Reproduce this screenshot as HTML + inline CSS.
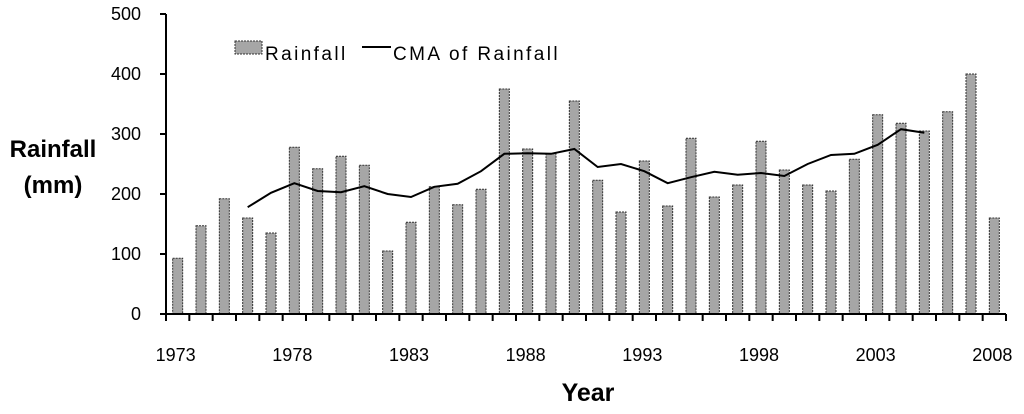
<!DOCTYPE html>
<html><head><meta charset="utf-8"><style>
body{margin:0;background:#fff;width:1024px;height:409px;overflow:hidden;font-family:"Liberation Sans",sans-serif}
</style></head><body>
<svg id="chart" width="1024" height="409" xmlns="http://www.w3.org/2000/svg" font-family="Liberation Sans, sans-serif">
<text x="53" y="157" font-size="24" font-weight="bold" text-anchor="middle">Rainfall</text>
<text x="53" y="193" font-size="24" font-weight="bold" text-anchor="middle">(mm)</text>
<text x="588" y="401" font-size="25" font-weight="bold" text-anchor="middle">Year</text>
<g>
<rect x="235" y="41" width="27" height="13" fill="#a6a6a6" stroke="#333" stroke-dasharray="2,1"/>
<text x="265" y="60" font-size="19" letter-spacing="2.4">Rainfall</text>
<line x1="362" y1="47" x2="391" y2="47" stroke="#000" stroke-width="2"/>
<text x="393" y="60" font-size="19" letter-spacing="2.4">CMA of Rainfall</text>
</g>
<g id="bars"></g><g id="axes"></g>
</svg>
<script>
const years=[];for(let y=1973;y<=2008;y++)years.push(y);
const rainfall=[93,147,192,160,135,278,242,263,248,105,153,212,182,208,375,275,267,355,223,170,255,180,293,195,215,288,240,215,205,258,332,318,305,337,400,160];
const cmaYears=[];for(let y=1976;y<=2005;y++)cmaYears.push(y);
const cma=[178,202,218,205,203,213,200,195,212,217,238,267,268,267,275,245,250,238,218,228,237,232,235,230,250,265,267,282,308,302];
const yTicks=[0,100,200,300,400,500];
const xLabels=[1973,1978,1983,1988,1993,1998,2003,2008];
const NS="http://www.w3.org/2000/svg";
const x0=166,x1=1006,y0=314,yTop=14,step=(x1-x0)/years.length;
const xs=y=>x0+(y-1973+0.5)*step;
const ys=v=>y0-(v/500)*(y0-yTop);
function mk(t,a,p){const e=document.createElementNS(NS,t);for(const k in a)e.setAttribute(k,a[k]);p.appendChild(e);return e;}
const bars=document.getElementById('bars'),axes=document.getElementById('axes');
years.forEach((yr,i)=>{const r=mk('rect',{x:xs(yr)-5,y:ys(rainfall[i]),width:10,height:y0-ys(rainfall[i]),fill:'#a6a6a6',stroke:'#333','stroke-width':1,'stroke-dasharray':'2,1'},bars);

});
const pl=mk('polyline',{points:cmaYears.map((yr,i)=>xs(yr)+','+ys(cma[i])).join(' '),fill:'none',stroke:'#000','stroke-width':2},bars);


const ya=mk('line',{x1:x0,y1:yTop,x2:x0,y2:y0,stroke:'#000','stroke-width':2},axes);


const xa=mk('line',{x1:x0,y1:y0,x2:x1,y2:y0,stroke:'#000','stroke-width':2},axes);


yTicks.forEach(v=>{mk('line',{x1:x0-6,y1:ys(v),x2:x0,y2:ys(v),stroke:'#000','stroke-width':2},axes);
const t=mk('text',{x:141,y:ys(v)+6,'font-size':18,'text-anchor':'end'},axes);t.textContent=v;

});
for(let i=0;i<=years.length;i++)mk('line',{x1:x0+i*step,y1:y0,x2:x0+i*step,y2:y0+7,stroke:'#000','stroke-width':2},axes);
xLabels.forEach(yr=>{const t=mk('text',{x:xs(yr)-2,y:361,'font-size':18,'text-anchor':'middle'},axes);t.textContent=yr;

});
</script>
</body></html>
